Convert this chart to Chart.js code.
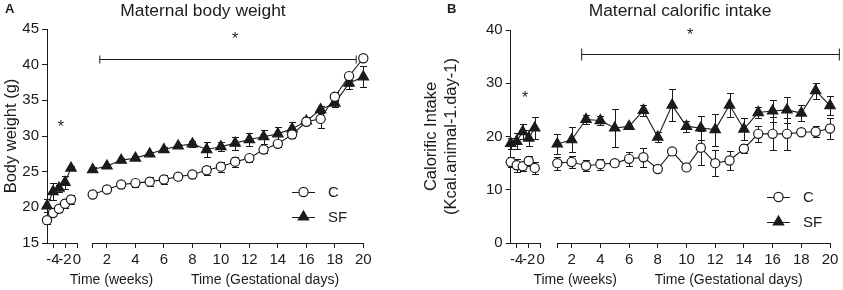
<!DOCTYPE html>
<html>
<head>
<meta charset="utf-8">
<script src="https://cdn.jsdelivr.net/npm/chart.js@4.4.1/dist/chart.umd.min.js"></script>
<style>
  html, body { margin: 0; padding: 0; background: #fff; }
  .wrap { position: relative; width: 843px; height: 290px; }
  #chA { position: absolute; left: 0; top: 0; }
  #chB { position: absolute; left: 420px; top: 0; }
</style>
</head>
<body>
<div class="wrap">
  <canvas id="chA" width="420" height="290"></canvas>
  <canvas id="chB" width="423" height="290"></canvas>
</div>
<script>
// ── x positions + tick labels ─────────────────────────────────────
const weeks    = [-5, -4, -3, -2, -1];
const days     = [1, 2, 3, 4, 5, 6, 7, 8, 9, 10, 11, 12, 13, 14, 15, 16, 17, 18, 19, 20];
const weekTicks = [-4, -2, 0];
const dayTicks  = [1, 2, 4, 6, 8, 10, 12, 14, 16, 18, 20];

// ── A: body weight (g), mean and SEM ──────────────────────────────
const bwC_wk     = [18.2, 19.2, 19.8, 20.5, 21.1];
const bwC_wkErr  = [0.5, 0.4, 0.5, 0.6, 0.6];
const bwSF_wk    = [20.2, 22.2, 22.7, 23.5, 25.5];
const bwSF_wkErr = [0.9, 1.2, 0.5, 0.9, 0.3];
const bwC_d      = [21.8, 22.5, 23.2, 23.4, 23.6, 23.9, 24.3, 24.6, 25.2, 25.7, 26.4, 26.9, 28.1, 28.9, 30.2, 32.0, 32.4, 35.5, 38.4, 40.9];
const bwC_dErr   = [0.3, 0.3, 0.5, 0.5, 0.6, 0.6, 0.4, 0.5, 0.6, 0.7, 0.7, 0.6, 0.5, 0.4, 0.5, 0.5, 1.3, 0.6, 0.5, 0.3];
const bwSF_d     = [25.3, 25.8, 26.6, 26.9, 27.5, 28.1, 28.6, 28.9, 28.1, 28.5, 29.0, 29.5, 29.9, 30.3, 31.0, 32.1, 33.7, 34.6, 37.4, 38.3];
const bwSF_dErr  = [0.3, 0.3, 0.3, 0.3, 0.3, 0.3, 0.3, 0.4, 1.0, 0.6, 0.9, 0.9, 1.0, 0.9, 1.0, 0.5, 0.5, 0.5, 0.8, 1.5];

// ── B: calorific intake (kcal/animal/day), mean and SEM ───────────
const kcC_wk     = [15.2, 14.6, 14.4, 15.4, 14.1];
const kcC_wkErr  = [1.0, 1.2, 0.8, 1.0, 1.2];
const kcSF_wk    = [18.7, 19.1, 20.9, 19.7, 21.6];
const kcSF_wkErr = [1.0, 1.5, 1.4, 1.5, 2.1];
const kcC_d      = [15.0, 15.2, 14.5, 14.8, 15.0, 15.8, 16.1, 13.9, 17.2, 14.2, 17.9, 15.0, 15.5, 17.7, 20.5, 20.5, 20.5, 20.8, 20.9, 21.5];
const kcC_dErr   = [1.2, 1.2, 1.0, 1.0, 0.5, 1.3, 1.8, 0.4, 0.6, 0.4, 3.2, 2.4, 1.8, 0.8, 1.5, 3.1, 3.0, 0.5, 1.0, 2.0];
const kcSF_d     = [18.6, 19.4, 23.2, 23.0, 21.6, 21.9, 24.9, 19.9, 25.9, 21.9, 21.6, 21.3, 25.9, 21.4, 24.5, 24.8, 25.0, 24.4, 28.6, 25.8];
const kcSF_dErr  = [1.9, 2.3, 0.8, 0.8, 3.6, 0.3, 1.0, 1.0, 3.0, 1.0, 2.2, 3.0, 2.2, 2.0, 1.0, 2.0, 2.4, 1.5, 1.5, 1.8];

// significance marks: [from day, to day, at y] and stars [axis, x, y]
const bracketA = [1.5, 19.5, 40.8];
const starsA   = [['xw', -2.7, 31.6], ['xd', 11, 44.0]];
const bracketB = [2.7, 20.65, 35.4];
const starsB   = [['xw', -2.6, 27.8], ['xd', 10.25, 39.7]];

const ink  = '#1b1b1b';
const FONT = '"Liberation Sans", Arial, Helvetica, sans-serif';
const R_CIRCLE = 4.6, R_TRI = 6;

function marker(ctx, style, x, y) {
  ctx.save();
  ctx.lineWidth = 1.2;
  ctx.strokeStyle = ink;
  ctx.beginPath();
  if (style === 'circle') {
    ctx.arc(x, y, R_CIRCLE, 0, Math.PI * 2);
    ctx.fillStyle = '#fff';
  } else {
    for (let k = 0; k < 3; k++) {
      const a = k * 2 * Math.PI / 3;
      ctx[k ? 'lineTo' : 'moveTo'](x + Math.sin(a) * R_TRI, y - Math.cos(a) * R_TRI);
    }
    ctx.closePath();
    ctx.fillStyle = ink;
  }
  ctx.fill();
  ctx.stroke();
  ctx.restore();
}

// error bars, brackets, stars, legend, titles
const figPlugin = {
  id: 'fig',
  beforeDatasetsDraw(chart) {
    const ctx = chart.ctx, ys = chart.scales.y;
    ctx.save();
    ctx.strokeStyle = ink;
    ctx.lineWidth = 1;
    chart.data.datasets.forEach((ds, i) => {
      if (!ds.err) return;
      chart.getDatasetMeta(i).data.forEach((pt, j) => {
        const v = ds.data[j].y, e = ds.err[j];
        const top = Math.round(ys.getPixelForValue(v + e)) + 0.5;
        const bot = Math.round(ys.getPixelForValue(v - e)) + 0.5;
        const x = Math.round(pt.x) + 0.5;
        ctx.beginPath();
        ctx.moveTo(x, top); ctx.lineTo(x, bot);
        ctx.moveTo(x - 3.5, top); ctx.lineTo(x + 3.5, top);
        ctx.moveTo(x - 3.5, bot); ctx.lineTo(x + 3.5, bot);
        ctx.stroke();
      });
    });
    ctx.restore();
  },
  afterDraw(chart, args, o) {
    const ctx = chart.ctx, ys = chart.scales.y, xd = chart.scales.xd, ca = chart.chartArea;
    ctx.save();
    ctx.fillStyle = ink;
    ctx.strokeStyle = ink;
    ctx.lineWidth = 1;

    // panel letter + title
    ctx.textBaseline = 'middle';
    ctx.textAlign = 'left';
    ctx.font = 'bold 13px ' + FONT;
    ctx.fillText(o.letter, o.letterX, 9);
    ctx.textAlign = 'center';
    ctx.font = '17.4px ' + FONT;
    ctx.fillText(o.title, o.titleX, 11);

    // x axis titles
    ctx.font = '14px ' + FONT;
    ctx.fillText('Time (weeks)', ca.left + 64.5, 280);
    ctx.fillText('Time (Gestational days)', ca.left + 218, 280);

    // bracket
    const [b0, b1, by] = o.bracket;
    const x1 = xd.getPixelForValue(b0), x2 = xd.getPixelForValue(b1);
    const yb = Math.round(ys.getPixelForValue(by)) + 0.5;
    ctx.beginPath();
    ctx.moveTo(x1, yb); ctx.lineTo(x2, yb);
    ctx.moveTo(x1, yb - o.cap); ctx.lineTo(x1, yb + o.cap);
    ctx.moveTo(x2, yb - o.cap); ctx.lineTo(x2, yb + o.cap);
    ctx.stroke();

    // stars
    ctx.font = '16px ' + FONT;
    o.stars.forEach(([axis, sx, sy]) => {
      ctx.fillText('*', chart.scales[axis].getPixelForValue(sx), ys.getPixelForValue(sy) + 3.5);
    });

    // legend
    ctx.textAlign = 'left';
    ctx.font = '15px ' + FONT;
    [['C', 'circle'], ['SF', 'triangle']].forEach(([lab, st], k) => {
      const lx = o.legendX, ly = o.legendY + k * 25;
      ctx.beginPath();
      ctx.moveTo(lx, ly + 0.5); ctx.lineTo(lx + 23, ly + 0.5);
      ctx.stroke();
      marker(ctx, st, lx + 11.5, ly);
      ctx.fillText(lab, lx + 36, ly + 1);
    });
    ctx.restore();
  }
};

function series(label, xs, ys, err, axis, style) {
  return {
    label,
    data: xs.map((x, i) => ({ x, y: ys[i] })),
    err,
    xAxisID: axis,
    yAxisID: 'y',
    clip: false,
    borderColor: ink,
    borderWidth: 1.1,
    pointStyle: style,
    pointRadius: style === 'circle' ? R_CIRCLE : R_TRI,
    pointBorderWidth: 1.2,
    pointBackgroundColor: style === 'circle' ? '#fff' : ink,
    pointBorderColor: ink,
    fill: false,
    tension: 0
  };
}

function makeChart(id, cfg) {
  const tickFont = { family: FONT, size: 15 };
  const axisGrid = { drawOnChartArea: false, tickLength: 5, color: ink, lineWidth: 1 };
  const fitX = s => { s.height = 47; };
  return new Chart(document.getElementById(id), {
    type: 'line',
    data: {
      datasets: [
        series('C', weeks, cfg.cWk, cfg.cWkErr, 'xw', 'circle'),
        series('C', days, cfg.cD, cfg.cDErr, 'xd', 'circle'),
        series('SF', weeks, cfg.sfWk, cfg.sfWkErr, 'xw', 'triangle'),
        series('SF', days, cfg.sfD, cfg.sfDErr, 'xd', 'triangle')
      ]
    },
    options: {
      responsive: false,
      animation: false,
      events: [],
      devicePixelRatio: 1,
      layout: { padding: { left: 0, top: cfg.padTop, right: cfg.padRight, bottom: 0 } },
      scales: {
        xw: {
          type: 'linear', position: 'bottom', stack: 't', stackWeight: 30,
          min: -5, max: 0,
          afterBuildTicks: s => { s.ticks = weekTicks.map(v => ({ value: v })); },
          ticks: { font: tickFont, color: ink, padding: 3, maxRotation: 0, autoSkip: false },
          grid: axisGrid, border: { color: ink },
          afterFit: fitX
        },
        xg: {
          type: 'linear', position: 'bottom', stack: 't', stackWeight: cfg.gapW,
          min: 0, max: 1,
          ticks: { display: false }, grid: { display: false }, border: { display: false },
          afterFit: fitX
        },
        xd: {
          type: 'linear', position: 'bottom', stack: 't', stackWeight: cfg.dayW,
          min: 1, max: 20,
          afterBuildTicks: s => { s.ticks = dayTicks.map(v => ({ value: v })); },
          ticks: { font: tickFont, color: ink, padding: 3, maxRotation: 0, autoSkip: false,
                   callback: v => v === 1 ? '' : v },
          grid: axisGrid, border: { color: ink },
          afterFit: fitX
        },
        y: {
          type: 'linear', position: 'left',
          min: cfg.yMin, max: cfg.yMax,
          ticks: { stepSize: cfg.yStep, font: tickFont, color: ink, padding: 3 },
          grid: axisGrid, border: { color: ink },
          title: { display: true, text: cfg.yTitle, color: ink,
                   font: { family: FONT, size: 16.5, lineHeight: cfg.yLH },
                   padding: { top: cfg.yTitlePad, bottom: 0 } },
          afterFit: s => { s.width = cfg.yW; }
        }
      },
      plugins: {
        legend: { display: false },
        tooltip: { enabled: false },
        fig: {
          letter: cfg.letter, letterX: cfg.letterX,
          title: cfg.title, titleX: cfg.titleX,
          bracket: cfg.bracket, cap: cfg.cap, stars: cfg.stars,
          legendX: cfg.legendX, legendY: cfg.legendY
        }
      }
    },
    plugins: [figPlugin]
  });
}

makeChart('chA', {
  cWk: bwC_wk, cWkErr: bwC_wkErr, sfWk: bwSF_wk, sfWkErr: bwSF_wkErr,
  cD: bwC_d, cDErr: bwC_dErr, sfD: bwSF_d, sfDErr: bwSF_dErr,
  yMin: 15, yMax: 45, yStep: 5, yW: 47,
  yTitle: 'Body weight (g)', yLH: 1.2, yTitlePad: 2,
  padTop: 29, padRight: 56.7, gapW: 15.7, dayW: 270.6,
  letter: 'A', letterX: 5, title: 'Maternal body weight', titleX: 203,
  bracket: bracketA, cap: 4, stars: starsA,
  legendX: 292, legendY: 192
});

makeChart('chB', {
  cWk: kcC_wk, cWkErr: kcC_wkErr, sfWk: kcSF_wk, sfWkErr: kcSF_wkErr,
  cD: kcC_d, cDErr: kcC_dErr, sfD: kcSF_d, sfDErr: kcSF_dErr,
  yMin: 0, yMax: 40, yStep: 10, yW: 90.7,
  yTitle: ['Calorific Intake', '(Kcal.animal-1.day-1)'], yLH: 1.27, yTitlePad: 0.5,
  padTop: 30, padRight: 13, gapW: 16.6, dayW: 272.7,
  letter: 'B', letterX: 27, title: 'Maternal calorific intake', titleX: 260,
  bracket: bracketB, cap: 6, stars: starsB,
  legendX: 347, legendY: 197
});
</script>
</body>
</html>
